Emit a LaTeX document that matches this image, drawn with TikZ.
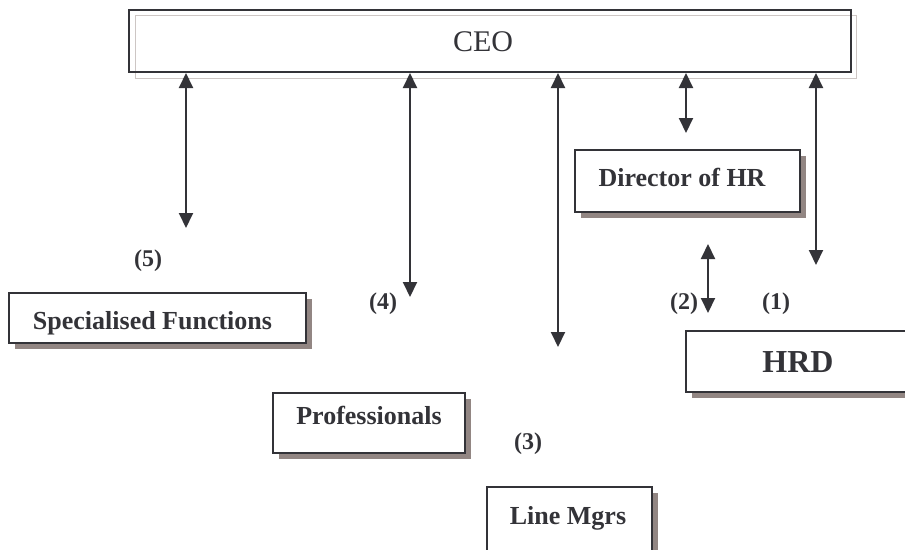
\documentclass[tikz,border=0pt]{standalone}
\usepackage{fontspec}
\setmainfont{Liberation Serif}
\usetikzlibrary{arrows.meta,shadows}
\definecolor{ink}{RGB}{51,51,56}
\definecolor{shade}{RGB}{146,134,131}
\definecolor{pale}{RGB}{205,198,196}
\newcommand\shiftedtext[3]{\raisebox{#2}{\hspace*{#1}#3\hspace*{-#1}}}
\begin{document}
\begin{tikzpicture}[x=1pt,y=-1pt,
  box/.style={draw=ink,line width=1.5pt,fill=white,inner sep=0pt,text=ink,
    font=\fontsize{26}{30}\selectfont\bfseries,text height=17.5pt,text depth=0pt,
    drop shadow={shadow xshift=5.5pt,shadow yshift=-5.5pt,fill=shade,opacity=1}},
  link/.style={draw=ink,line width=2pt,
    {Triangle[width=14pt,length=15pt]}-{Triangle[width=14pt,length=15pt]}},
  num/.style={font=\fontsize{24}{28}\selectfont\bfseries,text=ink,inner sep=0pt,anchor=base}]
\useasboundingbox (0,0) rectangle (905,549);
\clip (0,0) rectangle (905,549);
% CEO
\draw[pale,line width=1pt] (135,15) rectangle (856,78);
\node[draw=ink,line width=2pt,inner sep=0pt,minimum width=722pt,minimum height=62pt,
  font=\fontsize{30}{34}\selectfont,text=ink,text height=20pt,text depth=0pt] (ceo) at (490,41) {\shiftedtext{-7pt}{0pt}{CEO}};
% boxes
\node[box,minimum width=225pt,minimum height=62pt] (dir) at (687.5,181) {\shiftedtext{-5.5pt}{3pt}{Director of HR}};
\node[box,minimum width=297pt,minimum height=50pt] (spec) at (157.5,318) {\shiftedtext{-5pt}{-2.5pt}{Specialised Functions}};
\node[box,minimum width=192pt,minimum height=60pt] (prof) at (369,423) {\shiftedtext{0pt}{7pt}{Professionals}};
\node[box,minimum width=165pt,minimum height=73pt] (line) at (569.5,523.5) {\shiftedtext{-1.5pt}{7.5pt}{Line Mgrs}};
\node[box,minimum width=224pt,minimum height=61pt,font=\fontsize{32}{36}\selectfont\bfseries,text height=21.6pt] (hrd) at (798,361.5) {HRD};
% arrow ends
\coordinate (e5) at (186,228);
\coordinate (e4) at (410,297);
\coordinate (e3) at (558,347);
\coordinate (ehr) at (686,133);
\coordinate (e1) at (816,265);
\coordinate (a2t) at (708,244);
\coordinate (a2b) at (708,313);
\draw[link] (ceo.south -| e5) -- (e5);
\draw[link] (ceo.south -| e4) -- (e4);
\draw[link] (ceo.south -| e3) -- (e3);
\draw[link] (ceo.south -| ehr) -- (ehr);
\draw[link] (ceo.south -| e1) -- (e1);
\draw[link] (a2t) -- (a2b);
% labels
\node[num] (n5) at (148,266) {(5)};
\node[num] (n4) at (383,309) {(4)};
\node[num] (n3) at (528,449) {(3)};
\node[num] (n2) at (684,309) {(2)};
\node[num] (n1) at (776,309) {(1)};
\end{tikzpicture}
\end{document}
